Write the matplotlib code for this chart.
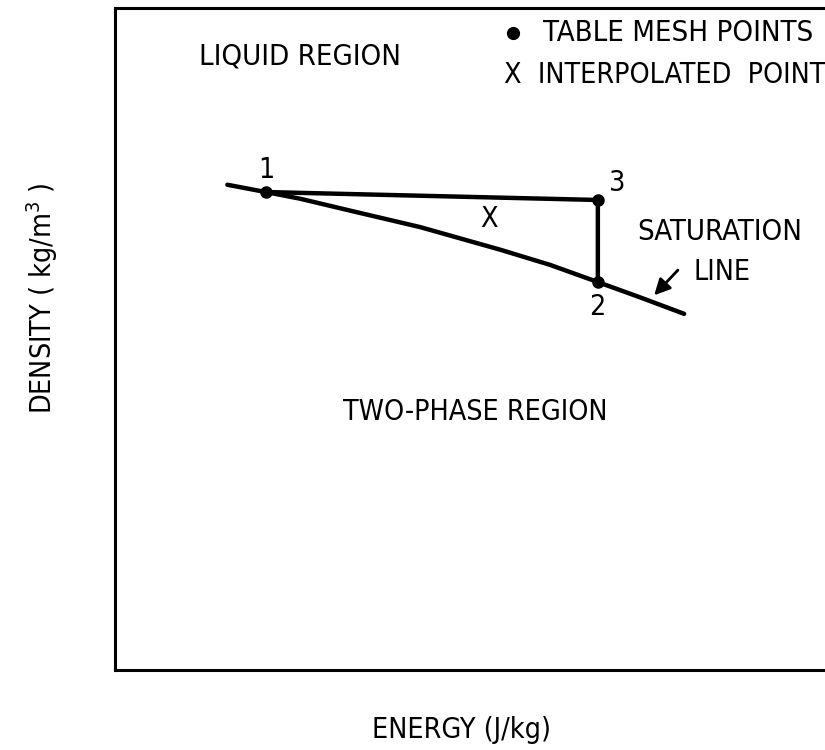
import matplotlib as mpl
import matplotlib.pyplot as plt
import numpy as np

mpl.rcParams['font.family'] = ['DejaVu Sans']
mpl.rcParams['font.stretch'] = 'condensed'

# saturation line (energy, density) in arbitrary units
sat_energy = [1.55, 2.08, 2.55, 3.24, 4.21, 5.31, 6.00, 6.66, 7.24, 7.85]
sat_density = [7.33, 7.22, 7.12, 6.94, 6.69, 6.35, 6.12, 5.86, 5.63, 5.38]

# table mesh points 1, 2, 3
mesh_labels = ['1', '2', '3']
mesh_energy = [2.08, 6.66, 6.66]
mesh_density = [7.22, 5.86, 7.10]

# interpolated point
interp_energy = 5.16
interp_density = 6.81

fig = plt.figure(figsize=(8.25, 7.5), dpi=100)
# box runs off the right edge of the page like the scan
ax = fig.add_axes([115/825, 80/750, 725/825, 662/750])
ax.set_xlim(0, 10)
ax.set_ylim(0, 10)
ax.set_xticks([])
ax.set_yticks([])
for s in ax.spines.values():
    s.set_linewidth(2.2)

lw = 3.2
ax.plot(sat_energy, sat_density, color='black', lw=lw, solid_capstyle='round',
        solid_joinstyle='round')
# 1 -> 3 -> 2
ax.plot([mesh_energy[0], mesh_energy[2], mesh_energy[1]],
        [mesh_density[0], mesh_density[2], mesh_density[1]],
        color='black', lw=lw, solid_joinstyle='round')
ax.plot(mesh_energy, mesh_density, 'o', color='black', ms=8)

fs = 20.5
ax.text(2.09, 7.55, mesh_labels[0], fontsize=fs, ha='center', va='center')
ax.text(6.65, 5.48, mesh_labels[1], fontsize=fs, ha='center', va='center')
ax.text(6.92, 7.36, mesh_labels[2], fontsize=fs, ha='center', va='center')
ax.text(interp_energy, interp_density, 'X', fontsize=fs, ha='center', va='center')

ax.text(2.55, 9.26, 'LIQUID REGION', fontsize=21, ha='center', va='center')
ax.text(4.97, 3.90, 'TWO-PHASE REGION', fontsize=fs, ha='center', va='center')
ax.text(8.34, 6.62, 'SATURATION', fontsize=21, ha='center', va='center')
ax.text(7.98, 6.01, 'LINE', fontsize=fs, ha='left', va='center')
ax.annotate('', xy=(7.41, 5.63), xytext=(7.79, 6.07),
            arrowprops=dict(arrowstyle='-|>', color='black', lw=2.0,
                            mutation_scale=24))

# key
ax.plot([5.49], [9.62], 'o', color='black', ms=8.5)
ax.text(5.90, 9.62, 'TABLE MESH POINTS', fontsize=21, ha='left', va='center')
ax.text(5.36, 8.99, 'X  INTERPOLATED  POINT', fontsize=20.5, ha='left', va='center')

fig.text(461/825, 1 - 730/750, 'ENERGY (J/kg)', fontsize=fs, ha='center', va='center')
fig.text(42/825, 1 - 298/750, r'DENSITY ( kg/m$^{\mathregular{3}}$ )', fontsize=fs,
         ha='center', va='center', rotation=90)

fig.savefig('out.png', dpi=100)
